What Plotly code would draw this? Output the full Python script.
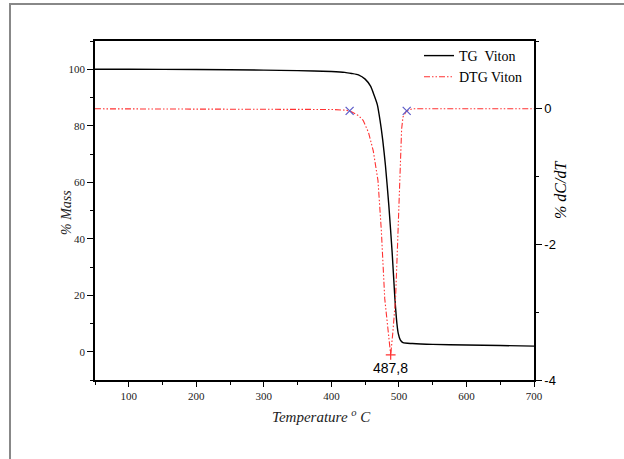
import plotly.graph_objects as go

# TG curve (% mass vs temperature)
tg_temp = [50, 100, 200, 300, 350, 400, 420, 430, 440, 450, 458, 463, 468, 472, 476,
           480, 485, 490, 494, 497, 499, 502, 506, 520, 550, 600, 650, 700]
tg_mass = [100, 100, 99.9, 99.7, 99.5, 99.2, 98.9, 98.5, 98.0, 96.5, 94, 91, 87.5, 82, 75,
           66, 52, 35, 19, 10, 6.5, 4.2, 3.2, 2.9, 2.6, 2.4, 2.2, 2.0]

# DTG curve (% dC/dT vs temperature)
dtg_temp = [50, 150, 250, 350, 400, 420, 427, 440, 447, 455, 462, 469, 474, 479, 484,
            487.8, 491, 495, 498, 501.5, 503.5, 504, 506, 511.5, 520, 600, 650, 660, 700]
dtg_val = [0, 0, 0, 0, -0.01, -0.02, -0.03, -0.1, -0.17, -0.35, -0.62, -1.06, -1.8, -2.8, -3.3,
           -3.63, -3.3, -2.8, -2.0, -1.06, -0.62, -0.3, -0.12, -0.03, 0, 0, -0.01, 0, 0]

# Marked points
onset_temp = [427, 511.5]
onset_val = [-0.03, -0.03]
peak_temp = [487.8]
peak_val = [-3.63]
peak_label = "487,8"

# Axis tick values
x_ticks = [100, 200, 300, 400, 500, 600, 700]
y_ticks = [0, 20, 40, 60, 80, 100]
y2_ticks = [0, -2, -4]

serif = "Liberation Serif"
sans = "Liberation Sans"

fig = go.Figure()
fig.add_trace(go.Scatter(x=tg_temp, y=tg_mass, mode="lines", name="TG  Viton",
                         line=dict(color="black", width=1.4, shape="spline", smoothing=0.6)))
fig.add_trace(go.Scatter(x=dtg_temp, y=dtg_val, mode="lines", name="DTG Viton", yaxis="y2",
                         line=dict(color="rgb(255,50,50)", width=1.1,
                                   dash="6px,2px,1.5px,2px,1.5px,2px")))
fig.add_trace(go.Scatter(x=onset_temp, y=onset_val, mode="markers", yaxis="y2", showlegend=False,
                         marker=dict(symbol="x-thin", size=8, line=dict(color="rgb(90,90,200)", width=1.2))))
fig.add_trace(go.Scatter(x=peak_temp, y=peak_val, mode="markers", yaxis="y2", showlegend=False,
                         marker=dict(symbol="cross-thin", size=7, line=dict(color="rgb(255,50,50)", width=1.2))))

L, R, T, B = 95, 90, 41, 79
W, H = 624, 459
pw, ph = W - L - R, H - T - B

def px(x):
    return (x - L) / pw

def py(y):
    return (H - B - y) / ph

fig.update_layout(
    width=W, height=H,
    margin=dict(l=L, r=R, t=T, b=B),
    paper_bgcolor="white", plot_bgcolor="white",
    showlegend=True,
    legend=dict(x=px(419), y=py(40), xanchor="left", yanchor="top",
                font=dict(family=serif, size=14, color="black"),
                bgcolor="rgba(0,0,0,0)", tracegroupgap=0, itemwidth=30),
    xaxis=dict(range=[50, 700], tickvals=x_ticks, ticks="outside", ticklen=5, tickwidth=1.2,
               tickcolor="black", showline=True, linecolor="black", linewidth=1.5, mirror=True,
               showgrid=False, zeroline=False,
               tickfont=dict(family=serif, size=11, color="#222"),
               minor=dict(tickvals=[50, 150, 250, 350, 450, 550, 650], ticks="outside",
                          ticklen=3, tickcolor="black", tickwidth=1.2)),
    yaxis=dict(range=[-10, 110], tickvals=y_ticks, ticks="outside", ticklen=6, tickwidth=1.2,
               tickcolor="black", showline=True, linecolor="black", linewidth=1.5,
               showgrid=False, zeroline=False,
               tickfont=dict(family=serif, size=11, color="#222"),
               minor=dict(tickvals=[-10, 10, 30, 50, 70, 90, 110], ticks="outside",
                          ticklen=3, tickcolor="black", tickwidth=1.2)),
    yaxis2=dict(range=[-4, 1], overlaying="y", side="right", tickvals=y2_ticks,
                ticktext=["0", "-2", "-4"], ticks="outside", ticklen=6, tickwidth=1.2,
                tickcolor="black", showline=True, linecolor="black", linewidth=1.5,
                showgrid=False, zeroline=False,
                tickfont=dict(family=sans, size=13, color="black"),
                minor=dict(tickvals=[-3, -1, 1], ticks="outside", ticklen=3,
                           tickcolor="black", tickwidth=1.2)),
)

fig.add_annotation(x=peak_temp[0], y=peak_val[0], xref="x", yref="y2", text=peak_label,
                   showarrow=False, yanchor="top", yshift=-3,
                   font=dict(family=sans, size=14, color="black"))
fig.add_annotation(x=px(66), y=py(213), xref="paper", yref="paper", text="<i>% Mass</i>",
                   showarrow=False, textangle=-90, xanchor="center", yanchor="middle",
                   font=dict(family=serif, size=14, color="#222"))
fig.add_annotation(x=px(560), y=py(190), xref="paper", yref="paper", text="<i>% dC/dT</i>",
                   showarrow=False, textangle=-90, xanchor="center", yanchor="middle",
                   font=dict(family=serif, size=16, color="black"))
fig.add_annotation(x=px(321), y=py(416), xref="paper", yref="paper",
                   text="<i>Temperature <sup>o</sup> C</i>", showarrow=False,
                   xanchor="center", yanchor="middle",
                   font=dict(family=serif, size=15, color="#222"))

# outer frame
fig.add_shape(type="line", xref="paper", yref="paper", x0=px(10), x1=px(10), y0=py(4), y1=py(470),
              line=dict(color="#888", width=2))
fig.add_shape(type="line", xref="paper", yref="paper", x0=px(9), x1=px(640), y0=py(4), y1=py(4),
              line=dict(color="#888", width=2))

fig.write_html("out.html", config={"displayModeBar": False},
               post_script="document.body.style.margin='0';document.body.style.padding='0';")
